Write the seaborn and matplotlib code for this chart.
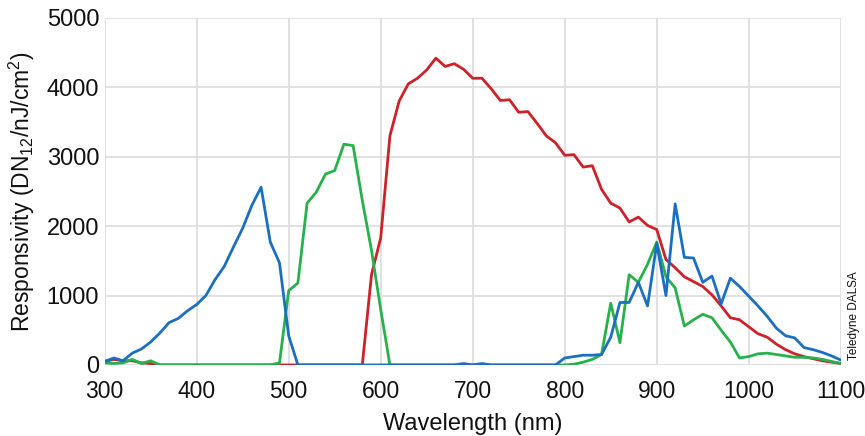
import pandas as pd
import seaborn as sns
import matplotlib.pyplot as plt
import numpy as np

# Spectral responsivity, sampled every 10 nm
wavelength = [300, 310, 320, 330, 340, 350, 360, 370, 380, 390,
              400, 410, 420, 430, 440, 450, 460, 470, 480, 490,
              500, 510, 520, 530, 540, 550, 560, 570, 580, 590,
              600, 610, 620, 630, 640, 650, 660, 670, 680, 690,
              700, 710, 720, 730, 740, 750, 760, 770, 780, 790,
              800, 810, 820, 830, 840, 850, 860, 870, 880, 890,
              900, 910, 920, 930, 940, 950, 960, 970, 980, 990,
              1000, 1010, 1020, 1030, 1040, 1050, 1060, 1070, 1080, 1090,
              1100]

red = [50, 80, 60, 60, 30, 20, 0, 0, 0, 0,
       0, 0, 0, 0, 0, 0, 0, 0, 0, 0,
       0, 0, 0, 0, 0, 0, 0, 0, 0, 1300,
       1830, 3300, 3800, 4050, 4130, 4250, 4420, 4300, 4340, 4260,
       4130, 4130, 3980, 3810, 3820, 3640, 3650, 3480, 3300, 3200,
       3020, 3030, 2850, 2870, 2530, 2330, 2260, 2060, 2130, 2010,
       1950, 1520, 1400, 1270, 1200, 1130, 1010, 850, 680, 650,
       550, 450, 400, 300, 220, 160, 120, 90, 60, 40,
       20]

green = [30, 20, 30, 80, 20, 60, 0, 0, 0, 0,
         0, 0, 0, 0, 0, 0, 0, 0, 0, 30,
         1070, 1180, 2330, 2490, 2750, 2800, 3180, 3160, 2370, 1650,
         800, 0, 0, 0, 0, 0, 0, 0, 0, 0,
         0, 0, 0, 0, 0, 0, 0, 0, 0, 0,
         0, 10, 40, 80, 150, 890, 320, 1300, 1190, 1450,
         1770, 1270, 1110, 560, 650, 730, 680, 500, 330, 100,
         120, 160, 170, 150, 130, 110, 110, 100, 80, 50,
         20]

blue = [50, 100, 60, 170, 230, 330, 460, 610, 670, 780,
        870, 1000, 1230, 1420, 1700, 1970, 2300, 2560, 1770, 1470,
        420, 0, 0, 0, 0, 0, 0, 0, 0, 0,
        0, 0, 0, 0, 0, 0, 0, 0, 0, 20,
        0, 20, 0, 0, 0, 0, 0, 0, 0, 0,
        100, 120, 140, 140, 150, 400, 900, 900, 1190, 850,
        1750, 1000, 2320, 1550, 1540, 1190, 1280, 880, 1250, 1130,
        990, 850, 700, 530, 420, 390, 250, 220, 180, 130,
        70]

sns.set_style("whitegrid", {"grid.color": "#dedede", "text.color": "#111111",
                            "xtick.color": "#111111", "ytick.color": "#111111",
                            "axes.labelcolor": "#111111"})
plt.rcParams['font.family'] = ['Liberation Sans', 'DejaVu Sans']

fig = plt.figure(figsize=(8.65, 4.36), dpi=100)
ax = fig.add_axes([0.121, 0.163, 0.851, 0.796])

# red first, blue last (blue sits on top at zero)
sns.lineplot(x=wavelength, y=red, color="#cc2229", lw=2, ax=ax)
sns.lineplot(x=wavelength, y=green, color="#27b04b", lw=2, ax=ax)
sns.lineplot(x=wavelength, y=blue, color="#1c6fbf", lw=2, ax=ax)

ax.set_xlim(300, 1100)
ax.set_ylim(0, 5000)
ax.set_xticks(range(300, 1101, 100))
ax.set_yticks(range(0, 5001, 1000))
ax.grid(True, lw=1.3)
for s in ax.spines.values():
    s.set_visible(False)
ax.tick_params(axis="both", length=0)
ax.tick_params(axis="y", labelsize=17, pad=4)
ax.tick_params(axis="x", labelsize=16.5, pad=11)

ax.set_xlabel("Wavelength (nm)", fontsize=17, labelpad=7)
ax.set_ylabel(r"Responsivity (DN$\mathregular{_{12}}$/nJ/cm$\mathregular{^2}$)",
              fontsize=16.5, labelpad=7)

fig.text(0.987, 0.275, "Teledyne DALSA", rotation=90, fontsize=8.5,
         ha="center", va="center")

fig.savefig("out.png", dpi=100)
